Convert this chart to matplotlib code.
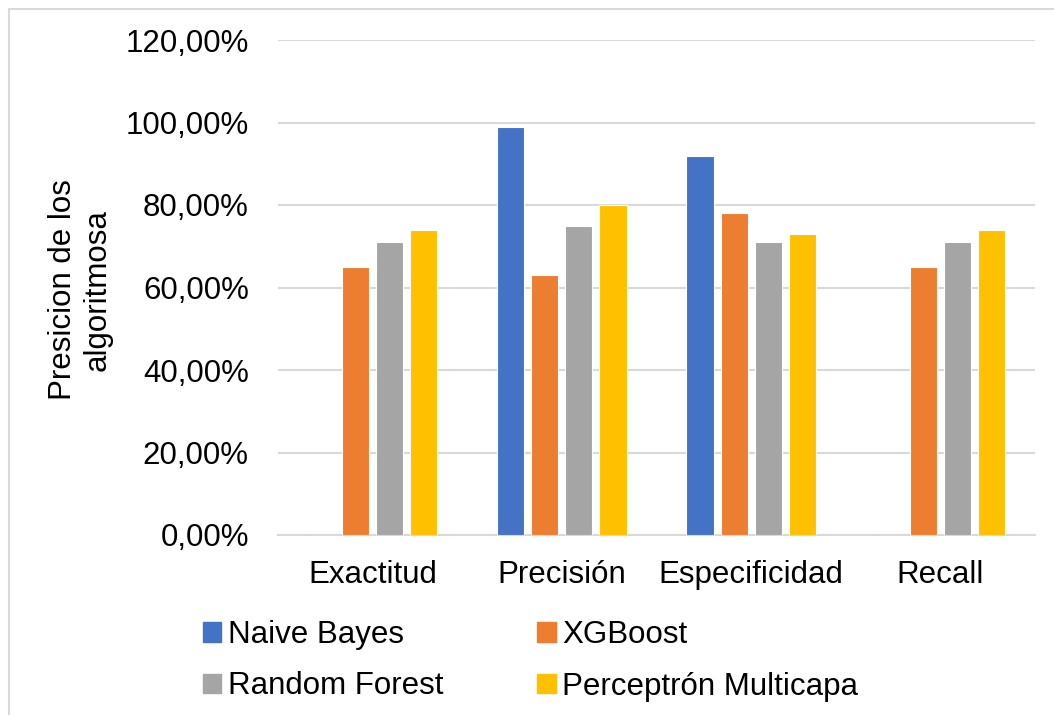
import numpy as np
import matplotlib.pyplot as plt
from matplotlib.patches import Patch, Rectangle
from matplotlib.ticker import FuncFormatter

plt.rcParams['font.family'] = ['Liberation Sans', 'DejaVu Sans']

# datos
metricas = ["Exactitud", "Precisión", "Especificidad", "Recall"]
naive_bayes = [0, 99, 92, 0]
xgboost = [65, 63, 78, 65]
random_forest = [71, 75, 71, 71]
perceptron = [74, 80, 73, 74]
series = ["Naive Bayes", "XGBoost", "Random Forest", "Perceptrón Multicapa"]
colores = ["#4472C4", "#ED7D31", "#A5A5A5", "#FFC000"]

fig = plt.figure(figsize=(10.54, 7.15), dpi=100)
W, H = 1054, 715
ax = fig.add_axes([278 / W, 1 - 535 / H, (1035 - 278) / W, (535 - 40) / H])

x = np.arange(len(metricas))
ancho = 0.143
paso = 0.18
valores = [naive_bayes, xgboost, random_forest, perceptron]
for i, (vals, c) in enumerate(zip(valores, colores)):
    ax.bar(x + (i - 1.5) * paso, vals, ancho, color=c, edgecolor="white", linewidth=0.8, zorder=3)

ax.set_xlim(-0.5, 3.5)
ax.set_ylim(0, 120)
ax.set_yticks(np.arange(0, 121, 20))
ax.yaxis.set_major_formatter(FuncFormatter(lambda v, p: f"{v:.2f}%".replace(".", ",")))
ax.set_xticks(x)
ax.set_xticklabels(metricas)
ax.grid(axis="y", color="#D9D9D9", linewidth=1.5, zorder=0)
for s in ["top", "right", "left"]:
    ax.spines[s].set_visible(False)
ax.spines["bottom"].set_color("#D9D9D9")
ax.spines["bottom"].set_linewidth(1.5)
ax.tick_params(axis="y", length=0, pad=21, labelsize=22.5)
ax.tick_params(axis="x", length=0, pad=18, labelsize=22.5)

fig.text(80 / W, 1 - 290 / H, "Presicion de los\nalgoritmosa", rotation=90,
         ha="center", va="center", multialignment="center", fontsize=22.5)

# leyenda: orden por columnas
orden = [0, 2, 1, 3]
handles = [Patch(color=colores[i], label=series[i]) for i in orden]
fig.legend(handles=handles, loc="upper left", bbox_to_anchor=(187 / W, 1 - 604 / H),
           ncol=2, frameon=False, fontsize=22.5, handlelength=0.6, handleheight=0.6,
           handletextpad=0.2, columnspacing=3.0, labelspacing=0.7, borderpad=0)

fig.patches.append(Rectangle((9 / W, -0.05), 1.1, 1 - 9 / H + 0.05, transform=fig.transFigure,
                             fill=False, edgecolor="#D9D9D9", linewidth=1.5))

fig.savefig("out.png")
